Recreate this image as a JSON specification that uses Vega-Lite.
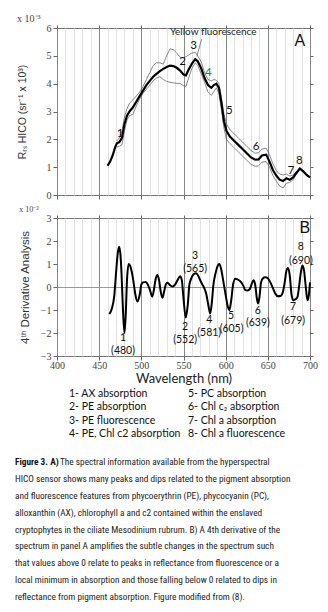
{
  "$schema": "https://vega.github.io/schema/vega-lite/v6.json",
  "background": "white",
  "padding": {"left": 15, "top": 13, "right": 0, "bottom": 0},
  "config": {
    "view": {"stroke": "#777", "strokeWidth": 1},
    "axis": {
      "domain": false,
      "tickColor": "#666",
      "tickSize": 4,
      "labelFont": "Liberation Serif",
      "labelColor": "#444",
      "labelFontSize": 10,
      "labelPadding": 2,
      "labelOverlap": false,
      "labelFlush": false,
      "titleFont": "Liberation Sans",
      "titleColor": "#333",
      "titleFontWeight": "normal"
    },
    "title": {"font": "Liberation Serif", "fontWeight": "normal", "color": "#444", "anchor": "start"}
  },
  "spacing": 0,
  "vconcat": [
    {
      "spacing": 4,
      "vconcat": [
        {
          "width": 253,
          "height": 167,
          "title": {"text": "x 10⁻³", "fontSize": 10, "offset": -1},
          "data": {"values": [
            {"wl": 460, "mean": 1.05},
            {"wl": 463, "mean": 1.2},
            {"wl": 466, "mean": 1.42},
            {"wl": 469, "mean": 1.72},
            {"wl": 471, "mean": 1.86, "upper": 1.95, "lower": 1.72},
            {"wl": 474, "mean": 1.9, "upper": 2.05, "lower": 1.75},
            {"wl": 477, "mean": 2.05, "upper": 2.3, "lower": 1.8},
            {"wl": 480, "mean": 2.55, "upper": 2.8, "lower": 2.3},
            {"wl": 483, "mean": 2.85, "upper": 3.1, "lower": 2.7},
            {"wl": 486, "mean": 3.0, "upper": 3.3, "lower": 2.85},
            {"wl": 490, "mean": 3.15, "upper": 3.42, "lower": 2.9},
            {"wl": 494, "mean": 3.35, "upper": 3.55, "lower": 3.2},
            {"wl": 498, "mean": 3.55, "upper": 3.7, "lower": 3.45},
            {"wl": 502, "mean": 3.75, "upper": 3.9, "lower": 3.65},
            {"wl": 506, "mean": 3.95, "upper": 4.15, "lower": 3.8},
            {"wl": 510, "mean": 4.1, "upper": 4.4, "lower": 3.95},
            {"wl": 514, "mean": 4.25, "upper": 4.65, "lower": 4.1},
            {"wl": 518, "mean": 4.35, "upper": 4.75, "lower": 4.2},
            {"wl": 522, "mean": 4.45, "upper": 4.75, "lower": 4.25},
            {"wl": 526, "mean": 4.53, "upper": 4.7, "lower": 4.15},
            {"wl": 530, "mean": 4.6, "upper": 5.0, "lower": 4.08},
            {"wl": 534, "mean": 4.65, "upper": 5.25, "lower": 4.05},
            {"wl": 538, "mean": 4.63, "upper": 5.22, "lower": 4.03},
            {"wl": 542, "mean": 4.57, "upper": 5.1, "lower": 4.01},
            {"wl": 546, "mean": 4.47, "upper": 4.95, "lower": 4.0},
            {"wl": 550, "mean": 4.33, "upper": 4.93, "lower": 3.93},
            {"wl": 553, "mean": 4.3, "upper": 4.97, "lower": 3.9},
            {"wl": 556, "mean": 4.5, "upper": 5.03, "lower": 4.2},
            {"wl": 560, "mean": 4.72, "upper": 5.1, "lower": 4.55},
            {"wl": 564, "mean": 4.88, "upper": 5.12, "lower": 4.75},
            {"wl": 567, "mean": 4.8, "upper": 5.0, "lower": 4.65},
            {"wl": 571, "mean": 4.55, "upper": 4.78, "lower": 4.35},
            {"wl": 575, "mean": 4.2, "upper": 4.4, "lower": 4.05},
            {"wl": 579, "mean": 3.95, "upper": 4.15, "lower": 3.7},
            {"wl": 583, "mean": 3.85, "upper": 4.1, "lower": 3.58},
            {"wl": 586, "mean": 3.95, "upper": 4.15, "lower": 3.72},
            {"wl": 589, "mean": 4.0, "upper": 4.12, "lower": 3.85},
            {"wl": 592, "mean": 3.85, "upper": 4.0, "lower": 3.65},
            {"wl": 595, "mean": 3.3, "upper": 3.5, "lower": 3.05},
            {"wl": 598, "mean": 2.65, "upper": 2.9, "lower": 2.4},
            {"wl": 601, "mean": 2.3, "upper": 2.55, "lower": 2.0},
            {"wl": 605, "mean": 2.1, "upper": 2.35, "lower": 1.85},
            {"wl": 610, "mean": 1.95, "upper": 2.2, "lower": 1.7},
            {"wl": 615, "mean": 1.8, "upper": 2.05, "lower": 1.55},
            {"wl": 620, "mean": 1.65, "upper": 1.9, "lower": 1.4},
            {"wl": 625, "mean": 1.5, "upper": 1.75, "lower": 1.25},
            {"wl": 630, "mean": 1.35, "upper": 1.6, "lower": 1.1},
            {"wl": 635, "mean": 1.27, "upper": 1.5, "lower": 1.03},
            {"wl": 639, "mean": 1.28, "upper": 1.52, "lower": 1.05},
            {"wl": 643, "mean": 1.42, "upper": 1.65, "lower": 1.18},
            {"wl": 648, "mean": 1.45, "upper": 1.68, "lower": 1.2},
            {"wl": 652, "mean": 1.2, "upper": 1.45, "lower": 1.0},
            {"wl": 656, "mean": 0.9, "upper": 1.12, "lower": 0.7},
            {"wl": 660, "mean": 0.7, "upper": 0.88, "lower": 0.5},
            {"wl": 664, "mean": 0.55, "upper": 0.75, "lower": 0.32},
            {"wl": 668, "mean": 0.5, "upper": 0.72, "lower": 0.25},
            {"wl": 672, "mean": 0.6, "upper": 0.75, "lower": 0.42},
            {"wl": 676, "mean": 0.55, "upper": 0.68, "lower": 0.45},
            {"wl": 680, "mean": 0.63, "upper": 0.72, "lower": 0.55},
            {"wl": 684, "mean": 0.8, "upper": 0.85, "lower": 0.75},
            {"wl": 688, "mean": 0.95, "upper": 0.97, "lower": 0.93},
            {"wl": 692, "mean": 0.85, "upper": 0.87, "lower": 0.83},
            {"wl": 696, "mean": 0.72, "upper": 0.73, "lower": 0.71},
            {"wl": 700, "mean": 0.63, "upper": 0.64, "lower": 0.62}
          ]},
          "layer": [
            {
              "mark": {"type": "line", "color": "#555", "strokeWidth": 0.7},
              "encoding": {
                "x": {"field": "wl", "type": "quantitative", "scale": {"domain": [400, 700], "nice": false},
                  "axis": {"orient": "top", "values": [400, 450, 500, 550, 600, 650, 700], "labels": false, "grid": false, "title": null, "tickSize": 3}},
                "y": {"field": "upper", "type": "quantitative", "scale": {"domain": [0, 6], "nice": false},
                  "axis": {"orient": "right", "values": [0, 1, 2, 3, 4, 5, 6], "labels": false, "grid": false, "title": null, "tickSize": 3}}
              }
            },
            {
              "mark": {"type": "line", "color": "#555", "strokeWidth": 0.7},
              "encoding": {
                "x": {"field": "wl", "type": "quantitative", "axis": null},
                "y": {"field": "lower", "type": "quantitative", "axis": null}
              }
            },
            {
              "mark": {"type": "line", "color": "#000", "strokeWidth": 2.2},
              "encoding": {
                "x": {"field": "wl", "type": "quantitative",
                  "axis": {"orient": "bottom", "values": [400,410,420,430,440,450,460,470,480,490,500,510,520,530,540,550,560,570,580,590,600,610,620,630,640,650,660,670,680,690,700],
                    "labels": false, "title": null, "grid": true,
                    "gridColor": {"condition": {"test": "datum.value % 50 === 0", "value": "#888"}, "value": "#e2e2e2"},
                    "tickOpacity": {"condition": {"test": "datum.value % 50 === 0", "value": 1}, "value": 0}}},
                "y": {"field": "mean", "type": "quantitative",
                  "axis": {"orient": "left", "values": [0, 1, 2, 3, 4, 5, 6], "grid": false,
                    "title": "Rᵣₛ HICO (sr⁻¹ x 10³)", "titleFontSize": 10.5, "titlePadding": 19}}
              }
            },
            {
              "data": {"values": [
                {"lab": "1", "wl": 474.7, "v": 2.2},
                {"lab": "2", "wl": 549, "v": 4.79},
                {"lab": "3", "wl": 562, "v": 5.35},
                {"lab": "4", "wl": 579.4, "v": 4.37},
                {"lab": "5", "wl": 604.3, "v": 3.03},
                {"lab": "6", "wl": 636, "v": 1.74},
                {"lab": "7", "wl": 677.5, "v": 0.87},
                {"lab": "8", "wl": 687.3, "v": 1.23}
              ]},
              "mark": {"type": "text", "font": "Lato", "fontSize": 11.5, "baseline": "middle", "align": "center"},
              "encoding": {
                "x": {"field": "wl", "type": "quantitative", "axis": null},
                "y": {"field": "v", "type": "quantitative", "axis": null},
                "text": {"field": "lab"},
                "color": {"condition": {"test": "datum.lab === '4'", "value": "#2f7a2f"}, "value": "#111"}
              }
            },
            {
              "data": {"values": [{"note": "Yellow fluorescence", "wl": 585.3, "v": 5.85}]},
              "mark": {"type": "text", "font": "Lato", "fontSize": 10, "baseline": "middle", "align": "center", "color": "#222"},
              "encoding": {
                "x": {"field": "wl", "type": "quantitative", "axis": null},
                "y": {"field": "v", "type": "quantitative", "axis": null},
                "text": {"field": "note"}
              }
            },
            {
              "data": {"values": [{"wl": 571.5, "v": 5.6, "wl2": 565.8, "v2": 4.98}]},
              "mark": {"type": "rule", "color": "#555", "strokeWidth": 0.7},
              "encoding": {
                "x": {"field": "wl", "type": "quantitative", "axis": null},
                "y": {"field": "v", "type": "quantitative", "axis": null},
                "x2": {"field": "wl2"},
                "y2": {"field": "v2"}
              }
            },
            {
              "data": {"values": [{"panel": "A", "wl": 688, "v": 5.53}]},
              "mark": {"type": "text", "font": "Liberation Sans", "fontSize": 16, "baseline": "middle", "align": "center", "color": "#111"},
              "encoding": {
                "x": {"field": "wl", "type": "quantitative", "axis": null},
                "y": {"field": "v", "type": "quantitative", "axis": null},
                "text": {"field": "panel"}
              }
            }
          ],
          "resolve": {"axis": {"x": "independent", "y": "independent"}}
        },
        {
          "width": 253,
          "height": 138,
          "title": {"text": "x 10⁻³", "fontSize": 8, "offset": -1},
          "data": {"values": [
            {"wl": 462, "d": -1.18}, {"wl": 465, "d": -0.95}, {"wl": 468, "d": -0.35}, {"wl": 470, "d": 0.6},
            {"wl": 472, "d": 1.45}, {"wl": 473.5, "d": 1.75}, {"wl": 475, "d": 1.5}, {"wl": 476.5, "d": 0.6},
            {"wl": 478, "d": -0.8}, {"wl": 480, "d": -2.0}, {"wl": 481.5, "d": -1.2}, {"wl": 483, "d": 0.3},
            {"wl": 485, "d": 1.0}, {"wl": 487, "d": 0.9}, {"wl": 489, "d": 0.6}, {"wl": 491, "d": 0.15},
            {"wl": 493, "d": -0.35}, {"wl": 495.5, "d": -0.63}, {"wl": 498, "d": -0.35}, {"wl": 500, "d": 0.1},
            {"wl": 502, "d": 0.2}, {"wl": 505, "d": 0.22}, {"wl": 507, "d": 0.15}, {"wl": 510, "d": -0.1},
            {"wl": 513, "d": -0.42}, {"wl": 515, "d": -0.1}, {"wl": 517, "d": 0.35}, {"wl": 519, "d": 0.52},
            {"wl": 521, "d": 0.3}, {"wl": 523, "d": -0.2}, {"wl": 525, "d": -0.47}, {"wl": 527, "d": -0.2},
            {"wl": 529, "d": 0.1}, {"wl": 531, "d": 0.18}, {"wl": 534, "d": 0.08}, {"wl": 537, "d": 0.02},
            {"wl": 540, "d": 0.1}, {"wl": 543, "d": 0.3}, {"wl": 546, "d": 0.47}, {"wl": 548, "d": 0.3},
            {"wl": 550, "d": -0.5}, {"wl": 552.7, "d": -1.33}, {"wl": 555, "d": -0.8}, {"wl": 557, "d": 0.1},
            {"wl": 559, "d": 0.35}, {"wl": 562, "d": 0.55}, {"wl": 565, "d": 0.6}, {"wl": 568, "d": 0.45},
            {"wl": 571, "d": 0.2}, {"wl": 574, "d": 0.0}, {"wl": 577, "d": -0.3}, {"wl": 580, "d": -0.9},
            {"wl": 581.7, "d": -1.15}, {"wl": 583.5, "d": -0.7}, {"wl": 585.5, "d": 0.1}, {"wl": 588, "d": 0.6},
            {"wl": 590.5, "d": 0.92}, {"wl": 592.5, "d": 1.0}, {"wl": 594.5, "d": 0.8}, {"wl": 597, "d": 0.3},
            {"wl": 600, "d": -0.35}, {"wl": 602.5, "d": -0.85}, {"wl": 604.4, "d": -1.0}, {"wl": 606.5, "d": -0.6},
            {"wl": 609, "d": 0.15}, {"wl": 611.5, "d": 0.36}, {"wl": 614, "d": 0.33}, {"wl": 618, "d": 0.22},
            {"wl": 621, "d": 0.05}, {"wl": 623, "d": -0.12}, {"wl": 626, "d": -0.15}, {"wl": 628.5, "d": -0.1},
            {"wl": 631, "d": 0.15}, {"wl": 633, "d": 0.29}, {"wl": 635, "d": 0.1}, {"wl": 637, "d": -0.5},
            {"wl": 638.5, "d": -0.72}, {"wl": 640, "d": -0.45}, {"wl": 642, "d": 0.2}, {"wl": 644, "d": 0.37},
            {"wl": 647, "d": 0.42}, {"wl": 650, "d": 0.38}, {"wl": 653, "d": 0.2}, {"wl": 656, "d": -0.05},
            {"wl": 659, "d": -0.3}, {"wl": 662, "d": -0.4}, {"wl": 665.5, "d": -0.38}, {"wl": 668, "d": -0.2},
            {"wl": 670, "d": 0.2}, {"wl": 672, "d": 0.7}, {"wl": 674, "d": 0.83}, {"wl": 676, "d": 0.5},
            {"wl": 678, "d": -0.3}, {"wl": 680, "d": -0.58}, {"wl": 682, "d": -0.55}, {"wl": 685, "d": -0.45},
            {"wl": 687, "d": 0.0}, {"wl": 689, "d": 0.6}, {"wl": 691, "d": 0.93}, {"wl": 693, "d": 0.7},
            {"wl": 695, "d": 0.0}, {"wl": 697, "d": -0.58}, {"wl": 698.5, "d": -0.4}, {"wl": 700, "d": 0.2}
          ]},
          "layer": [
            {
              "mark": {"type": "line", "color": "#000", "strokeWidth": 2, "interpolate": "monotone"},
              "encoding": {
                "x": {"field": "wl", "type": "quantitative", "scale": {"domain": [400, 700], "nice": false},
                  "axis": {"orient": "bottom", "values": [400,410,420,430,440,450,460,470,480,490,500,510,520,530,540,550,560,570,580,590,600,610,620,630,640,650,660,670,680,690,700],
                    "labelExpr": "datum.value % 50 === 0 ? datum.label : ''",
                    "labelPadding": 0,
                    "grid": true,
                    "gridColor": {"condition": {"test": "datum.value % 50 === 0", "value": "#888"}, "value": "#e2e2e2"},
                    "tickOpacity": {"condition": {"test": "datum.value % 50 === 0", "value": 1}, "value": 0},
                    "title": "Wavelength (nm)", "titleFont": "Lato", "titleFontSize": 13, "titleColor": "#222", "titlePadding": 2}},
                "y": {"field": "d", "type": "quantitative", "scale": {"domain": [-3, 3], "nice": false},
                  "axis": {"orient": "left", "values": [-3, -2, -1, 0, 1, 2, 3], "grid": true,
                    "gridColor": "#999",
                    "gridOpacity": {"condition": {"test": "datum.value === 0", "value": 1}, "value": 0},
                    "title": "4ᵗʰ Derivative Analysis", "titleFontSize": 11.5, "titlePadding": 10}}
              }
            },
            {
              "data": {"values": [
                {"lab": "1", "wl": 478.3, "v": -2.22}, {"lab": "(480)", "wl": 478.3, "v": -2.8},
                {"lab": "2", "wl": 551.9, "v": -1.75}, {"lab": "(552)", "wl": 551.9, "v": -2.3},
                {"lab": "3", "wl": 563.8, "v": 1.36}, {"lab": "(565)", "wl": 563.8, "v": 0.79},
                {"lab": "4", "wl": 580.5, "v": -1.43}, {"lab": "(581)", "wl": 580.5, "v": -2.0},
                {"lab": "5", "wl": 606.4, "v": -1.26}, {"lab": "(605)", "wl": 607, "v": -1.84},
                {"lab": "6", "wl": 638.2, "v": -1.03}, {"lab": "(639)", "wl": 638.2, "v": -1.58},
                {"lab": "7", "wl": 680, "v": -0.86}, {"lab": "(679)", "wl": 680, "v": -1.46},
                {"lab": "8", "wl": 689.2, "v": 1.72}, {"lab": "(690)", "wl": 689.2, "v": 1.12}
              ]},
              "mark": {"type": "text", "font": "Lato", "fontSize": 10.5, "baseline": "middle", "align": "center", "color": "#111"},
              "encoding": {
                "x": {"field": "wl", "type": "quantitative",
                  "axis": {"orient": "top", "values": [400, 450, 500, 550, 600, 650, 700], "labels": false, "grid": false, "title": null, "tickSize": 3}},
                "y": {"field": "v", "type": "quantitative",
                  "axis": {"orient": "right", "values": [-3, -2, -1, 0, 1, 2, 3], "labels": false, "grid": false, "title": null, "tickSize": 3}},
                "text": {"field": "lab"}
              }
            },
            {
              "data": {"values": [{"panel": "B", "wl": 694, "v": 2.58}]},
              "mark": {"type": "text", "font": "Liberation Sans", "fontSize": 16, "baseline": "middle", "align": "center", "color": "#111"},
              "encoding": {
                "x": {"field": "wl", "type": "quantitative", "axis": null},
                "y": {"field": "v", "type": "quantitative", "axis": null},
                "text": {"field": "panel"}
              }
            }
          ],
          "resolve": {"axis": {"x": "independent", "y": "independent"}}
        }
      ]
    },
    {
      "width": 253,
      "height": 214,
      "view": {"stroke": null},
      "data": {"values": [
        {"block": "legend", "col": 1, "line": 1, "text": "1- AX absorption"},
        {"block": "legend", "col": 1, "line": 2, "text": "2- PE absorption"},
        {"block": "legend", "col": 1, "line": 3, "text": "3- PE fluorescence"},
        {"block": "legend", "col": 1, "line": 4, "text": "4- PE, Chl c2 absorption"},
        {"block": "legend", "col": 2, "line": 1, "text": "5- PC absorption"},
        {"block": "legend", "col": 2, "line": 2, "text": "6- Chl c₂ absorption"},
        {"block": "legend", "col": 2, "line": 3, "text": "7- Chl a absorption"},
        {"block": "legend", "col": 2, "line": 4, "text": "8- Chl a fluorescence"},
        {"block": "captionBold", "col": 0, "line": 1, "text": "Figure 3. A)"},
        {"block": "captionRest", "col": 0, "line": 1, "text": "The spectral information available from the hyperspectral"},
        {"block": "caption", "col": 0, "line": 2, "text": "HICO sensor shows many peaks and dips related to the pigment absorption"},
        {"block": "caption", "col": 0, "line": 3, "text": "and fluorescence features from phycoerythrin (PE), phycocyanin (PC),"},
        {"block": "caption", "col": 0, "line": 4, "text": "alloxanthin (AX), chlorophyll a and c2 contained within the enslaved"},
        {"block": "caption", "col": 0, "line": 5, "text": "cryptophytes in the ciliate Mesodinium rubrum. B) A 4th derivative of the"},
        {"block": "caption", "col": 0, "line": 6, "text": "spectrum in panel A amplifies the subtle changes in the spectrum such"},
        {"block": "caption", "col": 0, "line": 7, "text": "that values above 0 relate to peaks in reflectance from fluorescence or a"},
        {"block": "caption", "col": 0, "line": 8, "text": "local minimum in absorption and those falling below 0 related to dips in"},
        {"block": "caption", "col": 0, "line": 9, "text": "reflectance from pigment absorption. Figure modified from (8)."}
      ]},
      "layer": [
        {
          "transform": [{"filter": "datum.block === 'legend'"}],
          "mark": {"type": "text", "align": "left", "baseline": "middle", "font": "Lato", "fontSize": 10.5, "color": "#111"},
          "encoding": {
            "x": {"field": "col", "type": "quantitative", "scale": {"domain": [1, 2], "range": [12, 131]}, "axis": null},
            "y": {"field": "line", "type": "quantitative", "scale": {"domain": [1, 4], "range": [8, 48]}, "axis": null},
            "text": {"field": "text"}
          }
        },
        {
          "transform": [{"filter": "datum.block === 'caption'"}],
          "mark": {"type": "text", "align": "left", "baseline": "middle", "font": "Roboto Condensed, Liberation Sans Narrow, DejaVu Sans Condensed, sans-serif", "fontSize": 9.3, "color": "#222"},
          "encoding": {
            "x": {"field": "col", "type": "quantitative", "scale": {"domain": [0, 1], "range": [-42, 200]}, "axis": null},
            "y": {"field": "line", "type": "quantitative", "scale": {"domain": [1, 9], "range": [76, 211]}, "axis": null},
            "text": {"field": "text"}
          }
        },
        {
          "transform": [{"filter": "datum.block === 'captionBold'"}],
          "mark": {"type": "text", "align": "left", "baseline": "middle", "font": "Roboto Condensed, Liberation Sans Narrow, DejaVu Sans Condensed, sans-serif", "fontSize": 9.3, "fontWeight": "bold", "color": "#111"},
          "encoding": {
            "x": {"field": "col", "type": "quantitative", "scale": {"domain": [0, 1], "range": [-42, 200]}, "axis": null},
            "y": {"field": "line", "type": "quantitative", "scale": {"domain": [1, 9], "range": [76, 211]}, "axis": null},
            "text": {"field": "text"}
          }
        },
        {
          "transform": [{"filter": "datum.block === 'captionRest'"}],
          "mark": {"type": "text", "align": "left", "baseline": "middle", "dx": 45, "font": "Roboto Condensed, Liberation Sans Narrow, DejaVu Sans Condensed, sans-serif", "fontSize": 9.3, "color": "#222"},
          "encoding": {
            "x": {"field": "col", "type": "quantitative", "scale": {"domain": [0, 1], "range": [-42, 200]}, "axis": null},
            "y": {"field": "line", "type": "quantitative", "scale": {"domain": [1, 9], "range": [76, 211]}, "axis": null},
            "text": {"field": "text"}
          }
        }
      ],
      "resolve": {"scale": {"x": "independent", "y": "independent"}}
    }
  ]
}
